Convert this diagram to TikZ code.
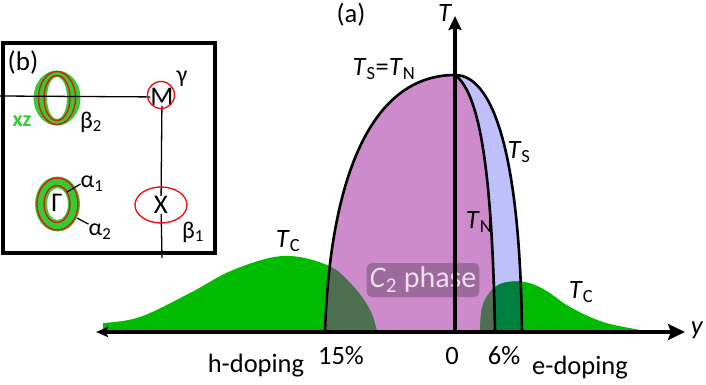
\documentclass[tikz,border=0pt]{standalone}
\usepackage{fontspec}
\setmainfont{Carlito}
\usetikzlibrary{arrows.meta}
\definecolor{dome}{RGB}{206,139,204}
\definecolor{tsblue}{RGB}{191,191,250}
\definecolor{tcgreen}{RGB}{0,187,0}
\definecolor{overA}{RGB}{79,112,80}
\definecolor{overB}{RGB}{0,128,62}
\definecolor{c2box}{RGB}{157,106,157}
\definecolor{c2text}{RGB}{238,222,238}
\definecolor{ingreen}{RGB}{50,205,50}
\definecolor{inred}{RGB}{235,20,20}
\tikzset{
  lab/.style={inner sep=1pt, font=\fontsize{26.5}{30}\selectfont},
  inlab/.style={inner sep=0pt, font=\fontsize{27}{30}\selectfont},
  glab/.style={inner sep=0pt, font=\fontsize{24}{28}\selectfont},
  bound/.style={line width=2.6pt, line join=round},
  axisline/.style={line width=4pt},
  thinline/.style={line width=1.3pt},
  redring/.style={draw=inred, line width=1.4pt},
  leftdome/.style={insert path={(325,332) .. controls (330,180) and (370,75) .. (455,75)}},
  tnpath/.style={insert path={.. controls (478,92) and (492,160) .. (495,332)}},
  tspath/.style={insert path={(455,75) .. controls (492,75) and (520,150) .. (522,332)}},
  greenL/.style={insert path={(103,332) -- plot[smooth,tension=0.6] coordinates {(103,323) (140,317) (190,293) (233,270) (283,256) (327,265) (352,285) (370,310) (377,332)} -- cycle}},
  greenR/.style={insert path={(480,332) -- plot[smooth,tension=0.6] coordinates {(480,332) (482,308) (490,292) (503,283) (525,282) (545,290) (570,307) (603,322) (640,330) (650,332)} -- cycle}},
}
\begin{document}
\begin{tikzpicture}[x=1pt,y=-1pt]
\useasboundingbox (0,0) rectangle (706,385);

% regions
\fill[tsblue, tspath] -- (455,332) -- cycle;
\fill[dome, leftdome, tnpath] -- cycle;
\fill[tcgreen, greenL];
\fill[tcgreen, greenR];
\begin{scope}
  \clip[leftdome, tnpath] -- cycle;
  \fill[overA, greenL];
  \fill[overA, greenR];
\end{scope}
\begin{scope}
  \clip[tspath] -- (495,332) .. controls (492,160) and (478,92) .. (455,75) -- cycle;
  \fill[overB, greenR];
\end{scope}

% C2 phase label
\node[fill=c2box, rounded corners=5pt, text=c2text, minimum width=111pt, minimum height=34pt, inner xsep=3pt, inner ysep=0pt, font=\fontsize{30}{32}\selectfont] (c2) at (423,280) {\textit{C}\textsubscript{2} phase};

% boundaries
\draw[bound, leftdome, tnpath];
\draw[bound, tspath];

% axes
\coordinate (yL) at (96,332);
\coordinate (yR) at (685,332);
\draw[axisline, {Stealth[length=12pt,width=10pt,inset=2pt]}-{Stealth[length=17pt,width=16pt,inset=3pt]}] (yL) -- (yR);
\coordinate (Tb) at (455,334);
\coordinate (Tt) at (455,16);
\draw[axisline, -{Stealth[length=14pt,width=13pt,inset=2pt]}] (Tb) -- (Tt);

% labels
\node[lab] (ya) at (697,330) {\textit{y}};
\node[lab] (Ta) at (445,13) {\textit{T}};
\node[lab] (a) at (351,15) {(a)};
\node[lab] (tstn) at (384,69) {\textit{T}\textsubscript{S}=\textit{T}\textsubscript{N}};
\node[lab] (ts) at (519,152) {\textit{T}\textsubscript{S}};
\node[lab] (tn) at (479,222) {\textit{T}\textsubscript{N}};
\node[lab] (tcl) at (288,241) {\textit{T}\textsubscript{C}};
\node[lab] (tcr) at (581,292) {\textit{T}\textsubscript{C}};
\node[lab] (p15) at (341,356) {15\%};
\node[lab] (p0) at (452,356) {0};
\node[lab] (p6) at (504,356) {6\%};
\node[lab] (hd) at (256,366) {h-doping};
\node[lab] (ed) at (580,368) {e-doping};

% inset (b)
\node[draw, line width=3.5pt, minimum width=212pt, minimum height=210pt, inner sep=0pt] (inset) at (109,148) {};
\node[inlab] (b) at (23,62) {(b)};

% O pocket
\fill[ingreen, even odd rule] (57,98) ellipse[x radius=23.5pt, y radius=27.5pt] (57,98) ellipse[x radius=10pt, y radius=21pt];
\draw[redring] (57,98) ellipse[x radius=18.5pt, y radius=26.5pt];
\draw[redring] (57,98) ellipse[x radius=13pt, y radius=22.5pt];

% Gamma pockets
\fill[ingreen, even odd rule] (57.5,204) ellipse[x radius=22.5pt, y radius=27.5pt] (57.5,204) ellipse[x radius=10.5pt, y radius=16pt];
\draw[redring] (57.5,204) ellipse[x radius=20.5pt, y radius=26pt];
\draw[redring] (57,204) ellipse[x radius=13pt, y radius=18.5pt];

% lines and symmetry points
\node[inlab] (M) at (162,97) {M};
\node[inlab] (X) at (161,205) {X};
\node[inlab] (G) at (57,203) {Γ};
\coordinate (hl) at (0,96);
\coordinate (vb) at (162,258);
\draw[thinline] (hl) -- (M);
\draw[thinline] (M) -- (X);
\draw[thinline] (X) -- (vb);
\draw[redring] (161,95) circle[radius=13.5pt];
\draw[redring] (161,205) ellipse[x radius=26pt, y radius=18pt];

% pocket labels
\node[glab] (gam) at (182,79) {γ};
\node[glab] (b1) at (193,232) {β\textsubscript{1}};
\node[glab] (b2) at (91,122) {β\textsubscript{2}};
\node[glab, text=ingreen, font=\fontsize{22}{26}\selectfont\bfseries] (xz) at (22,121) {xz};
\node[glab] (a1) at (92,184) {α\textsubscript{1}};
\node[glab] (a2) at (100,232) {α\textsubscript{2}};
\coordinate (a1p) at (67,192);
\coordinate (a2p) at (77,218);
\draw[thinline] (a1p) -- (a1.west);
\draw[thinline] (a2p) -- (a2.north west);
\end{tikzpicture}
\end{document}
